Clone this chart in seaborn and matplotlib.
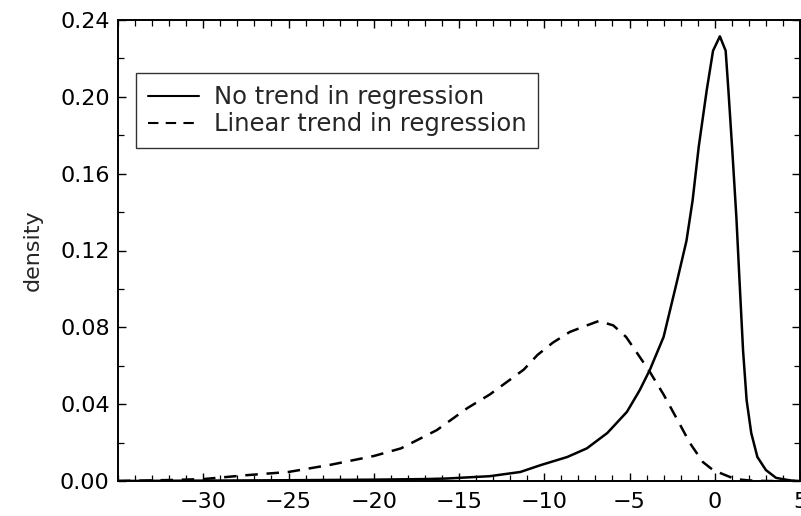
import matplotlib
matplotlib.use("Agg")
import matplotlib.pyplot as plt
from matplotlib.ticker import MultipleLocator, FixedLocator
import seaborn as sns
import pandas as pd

# ---- data ----
no_trend_x = [-35, -30, -25, -20, -17, -15.7, -13.2, -11.4, -10.2, -8.65, -7.5, -6.3,
              -5.15, -4.4, -3.8, -3.0, -2.24, -1.66, -1.3, -0.94, -0.47, -0.1, 0.3,
              0.64, 0.8, 1.03, 1.27, 1.46, 1.66, 1.87, 2.14, 2.5, 3.0, 3.6, 4.5, 5.0]
no_trend_y = [0.0, 0.0002, 0.0004, 0.0007, 0.001, 0.0013, 0.0025, 0.0047, 0.0083, 0.0125, 0.017, 0.025,
              0.036, 0.0473, 0.058, 0.075, 0.103, 0.125, 0.146, 0.174, 0.2035, 0.224, 0.2315,
              0.224, 0.2035, 0.172, 0.137, 0.103, 0.068, 0.042, 0.025, 0.0125, 0.0057, 0.0016, 0.0002, 0.0]

linear_x = [-35, -32, -30, -27.5, -25, -22.5, -20, -18.4, -16.3, -14.5, -13.2, -12.2, -11.2,
            -10.4, -9.5, -8.5, -7.5, -6.8, -5.95, -5.2, -4.4, -3.8, -3.0, -2.2, -1.46,
            -0.7, -0.1, 0.5, 1.2, 2.0, 3.0, 5.0]
linear_y = [0.0, 0.0005, 0.001, 0.003, 0.0047, 0.0085, 0.013, 0.017, 0.0265, 0.038, 0.045, 0.0515, 0.058,
            0.0656, 0.072, 0.0776, 0.081, 0.0833, 0.081, 0.075, 0.0646, 0.0567, 0.045, 0.032, 0.0198,
            0.0099, 0.0057, 0.0035, 0.001, 0.0003, 0.0, 0.0]

series_names = ["No trend in regression", "Linear trend in regression"]
x_ticks = [-30, -25, -20, -15, -10, -5, 0, 5]
y_ticks = [0.00, 0.04, 0.08, 0.12, 0.16, 0.20, 0.24]
y_label = "density"

df = pd.concat([
    pd.DataFrame({"x": no_trend_x, "density": no_trend_y, "series": series_names[0]}),
    pd.DataFrame({"x": linear_x, "density": linear_y, "series": series_names[1]}),
], ignore_index=True)

sns.set_style("white")
plt.rcParams["font.family"] = ["DejaVu Sans"]

fig = plt.figure(figsize=(8.01, 5.16), dpi=100)
ax = fig.add_axes([118 / 801, 35 / 516, 682 / 801, 461 / 516])

sns.lineplot(data=df, x="x", y="density", style="series", style_order=series_names,
             dashes={series_names[0]: "", series_names[1]: (5, 3.5)},
             color="black", linewidth=1.8, ax=ax, sort=False, estimator=None)

ax.set_xlim(-35, 5)
ax.set_ylim(0, 0.24)
ax.xaxis.set_major_locator(FixedLocator(x_ticks))
ax.xaxis.set_minor_locator(MultipleLocator(1))
ax.yaxis.set_major_locator(FixedLocator(y_ticks))
ax.yaxis.set_minor_locator(MultipleLocator(0.02))
ax.set_xticklabels([f"{t:d}".replace("-", "\u2212") for t in x_ticks])
ax.set_yticklabels([f"{t:.2f}" for t in y_ticks])

ax.tick_params(axis="both", which="both", direction="in", top=True, right=True,
               bottom=True, left=True, colors="black", labelsize=16)
ax.tick_params(axis="both", which="major", length=6, width=1.0)
ax.tick_params(axis="both", which="minor", length=4, width=0.9)
ax.tick_params(axis="x", which="major", pad=8)
ax.tick_params(axis="y", which="major", pad=6)

for s in ax.spines.values():
    s.set_visible(True)
    s.set_color("black")
    s.set_linewidth(1.4)

ax.set_xlabel("")
ax.set_ylabel(y_label, fontsize=16, labelpad=12)

leg = ax.legend(loc="upper left", bbox_to_anchor=(0.026, 0.885), fontsize=17.5,
                frameon=True, fancybox=False, handlelength=2.1, handletextpad=0.6,
                borderpad=0.5, labelspacing=0.12, borderaxespad=0)
leg.get_frame().set_edgecolor("black")
leg.get_frame().set_linewidth(1.0)
for h in leg.get_lines():
    h.set_linewidth(1.5)

fig.savefig("out.png", dpi=100, facecolor="white")
